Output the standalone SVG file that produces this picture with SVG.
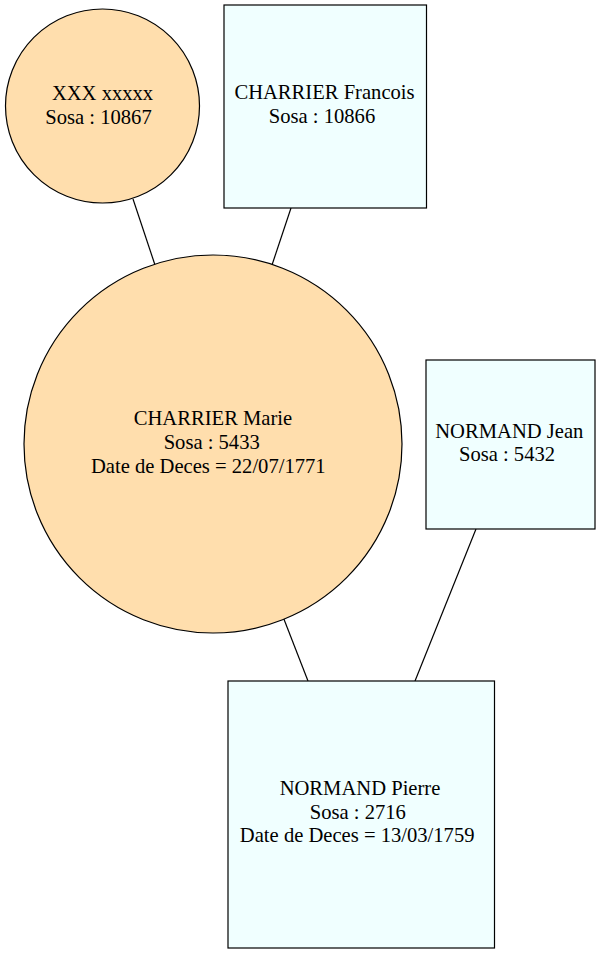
<svg xmlns="http://www.w3.org/2000/svg" width="600" height="953" viewBox="0 0 600 953">
<style>
.bg{fill:#ffffff}
.f{fill:#ffdead;stroke:#000;stroke-width:1.2}
.m{fill:#f0ffff;stroke:#000;stroke-width:1.2}
.e{stroke:#000;stroke-width:1.2;fill:none}
.t{font-family:'Liberation Serif','Times New Roman',Times,'DejaVu Serif',serif;font-size:20.6px;fill:#000;text-anchor:middle}
</style>
<rect class="bg" x="0" y="0" width="600" height="953"/>
<g id="connectors">
<line class="e" x1="133" y1="199" x2="155" y2="265"/>
<line class="e" x1="291" y1="208" x2="272" y2="265"/>
<line class="e" x1="283.5" y1="618" x2="308" y2="681"/>
<line class="e" x1="476" y1="529" x2="415" y2="681"/>
</g>
<g id="n10867">
<circle class="f" cx="102.5" cy="106" r="97"/>
<text class="t" font-family="Liberation Serif, serif" x="102.5" y="100">XXX xxxxx</text>
<text class="t" font-family="Liberation Serif, serif" x="98.5" y="124">Sosa : 10867</text>
</g>
<g id="n10866">
<rect class="m" x="224" y="5" width="202.5" height="203"/>
<text class="t" font-family="Liberation Serif, serif" x="324.5" y="99">CHARRIER Francois</text>
<text class="t" font-family="Liberation Serif, serif" x="322" y="123">Sosa : 10866</text>
</g>
<g id="n5433">
<circle class="f" cx="213" cy="444" r="189"/>
<text class="t" font-family="Liberation Serif, serif" x="213" y="425">CHARRIER Marie</text>
<text class="t" font-family="Liberation Serif, serif" x="211.7" y="449">Sosa : 5433</text>
<text class="t" font-family="Liberation Serif, serif" x="208.3" y="473">Date de Deces = 22/07/1771</text>
</g>
<g id="n5432">
<rect class="m" x="426" y="360" width="169" height="169"/>
<text class="t" font-family="Liberation Serif, serif" x="509.3" y="437.5">NORMAND Jean</text>
<text class="t" font-family="Liberation Serif, serif" x="507" y="461">Sosa : 5432</text>
</g>
<g id="n2716">
<rect class="m" x="228" y="681" width="266.5" height="267"/>
<text class="t" font-family="Liberation Serif, serif" x="360" y="795">NORMAND Pierre</text>
<text class="t" font-family="Liberation Serif, serif" x="357.8" y="818.5">Sosa : 2716</text>
<text class="t" font-family="Liberation Serif, serif" x="357.2" y="842.3">Date de Deces = 13/03/1759</text>
</g>
</svg>
